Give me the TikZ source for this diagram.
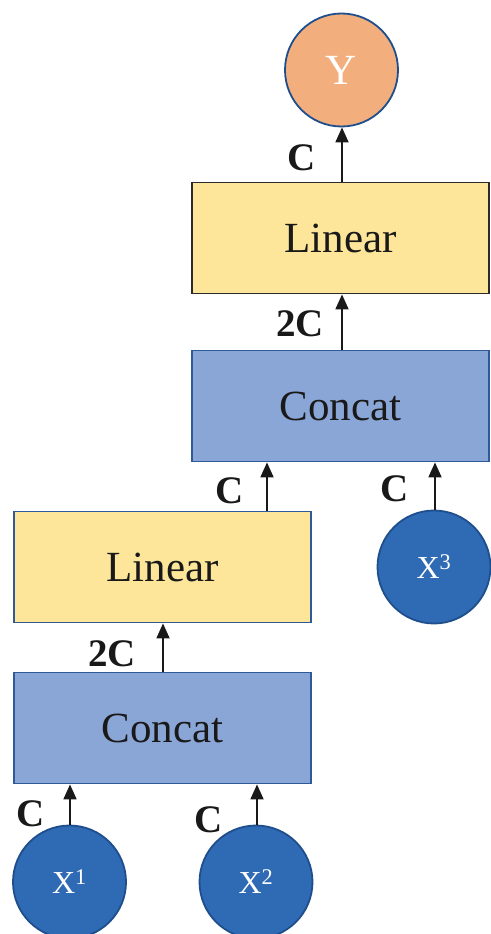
\documentclass[tikz,border=0pt]{standalone}
\usepackage{fontspec}
\setmainfont{Liberation Serif}
\usetikzlibrary{arrows.meta}
\definecolor{outfill}{HTML}{F2AF7D}
\definecolor{darkedge}{HTML}{1F4E8C}
\definecolor{linfill}{HTML}{FDE599}
\definecolor{linedge}{HTML}{2B2B2B}
\definecolor{catfill}{HTML}{8AA6D6}
\definecolor{catedge}{HTML}{2E5A98}
\definecolor{infill}{HTML}{2F6AB4}
\tikzset{
  linbox/.style={draw=linedge, fill=linfill, line width=1.8pt, minimum width=297pt,
    minimum height=111pt, inner sep=0pt, text=black!90,
    font=\fontsize{43}{43}\selectfont},
  catbox/.style={draw=catedge, fill=catfill, line width=1.8pt, minimum width=297pt,
    minimum height=111pt, inner sep=0pt, text=black!90,
    font=\fontsize{43}{43}\selectfont},
  incircle/.style={circle, draw=darkedge, fill=infill, line width=1.8pt,
    minimum size=113pt, inner sep=0pt, text=white,
    font=\fontsize{32}{32}\selectfont},
  outcircle/.style={circle, draw=darkedge, fill=outfill, line width=1.8pt,
    minimum size=113pt, inner sep=0pt, text=white,
    font=\fontsize{43}{43}\selectfont},
  dimlabel/.style={inner sep=0pt, text=black!90, font=\fontsize{39}{39}\selectfont\bfseries},
  arr/.style={line width=1.8pt, black!90, -{Triangle[length=15pt,width=13pt]}}
}
\begin{document}
\begin{tikzpicture}[x=1pt,y=-1pt]
\useasboundingbox (0,0) rectangle (490,934);

% nodes
\node[outcircle] (y) at (341.5,70) {Y};
\node[linbox] (tlin) at (340.5,238) {Linear};
\node[catbox] (tcat) at (340.5,406) {Concat};
\node[linbox, draw=catedge] (blin) at (162.5,567) {Linear};
\node[incircle] (x3) at (434,567) {X\textsuperscript{3}};
\node[catbox] (bcat) at (162.5,728) {Concat};
\node[incircle] (x1) at (69.5,882) {X\textsuperscript{1}};
\node[incircle] (x2) at (256,882) {X\textsuperscript{2}};

% connector columns
\coordinate (cy) at (342,0);
\coordinate (cl) at (267,0);
\coordinate (cr) at (435,0);
\coordinate (cb) at (163,0);
\coordinate (c1) at (70,0);
\coordinate (c2) at (257,0);

% connectors
\draw[arr] (tlin.north -| cy) -- (y.south -| cy);
\draw[arr] (tcat.north -| cy) -- (tlin.south -| cy);
\draw[arr] (blin.north -| cl) -- (tcat.south -| cl);
\draw[arr] (x3.north -| cr) -- (tcat.south -| cr);
\draw[arr] (bcat.north -| cb) -- (blin.south -| cb);
\draw[arr] (x1.north -| c1) -- (bcat.south -| c1);
\draw[arr] (x2.north -| c2) -- (bcat.south -| c2);

% channel labels
\node[dimlabel] (ly) at (302,158) {C};
\node[dimlabel] (ltl) at (300,324) {2C};
\node[dimlabel] (lcl) at (230,491) {C};
\node[dimlabel] (lcr) at (395,489) {C};
\node[dimlabel] (lbl) at (112,654) {2C};
\node[dimlabel] (lx1) at (31,814) {C};
\node[dimlabel] (lx2) at (209,820) {C};
\end{tikzpicture}
\end{document}
